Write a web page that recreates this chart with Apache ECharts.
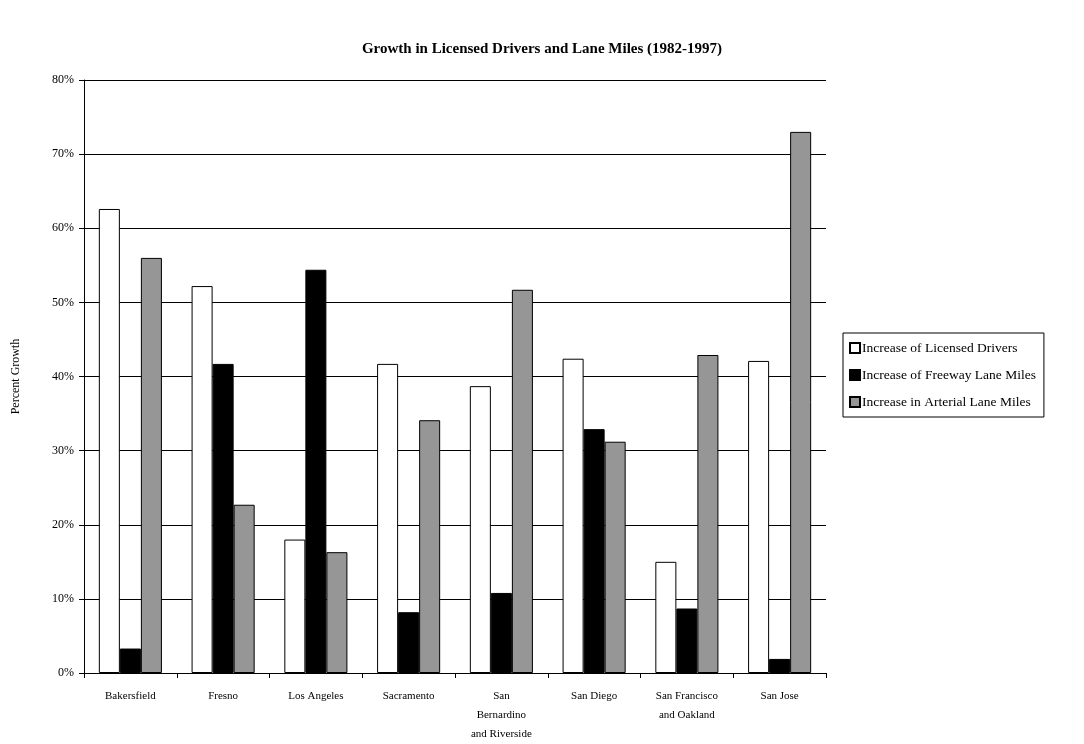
<!DOCTYPE html>
<html>
<head>
<meta charset="utf-8">
<script src="https://cdn.jsdelivr.net/npm/echarts@6/dist/echarts.min.js"></script>
<style>
  html, body { margin: 0; padding: 0; background: #fff; }
  #chart { width: 1084px; height: 744px; }
</style>
</head>
<body>
<div id="chart"></div>
<script>
// data
const cities = ['Bakersfield', 'Fresno', 'Los Angeles', 'Sacramento',
  'San\nBernardino\nand Riverside', 'San Diego', 'San Francisco\nand Oakland', 'San Jose'];
const licensedDrivers = [62.6, 52.2, 18.0, 41.7, 38.7, 42.4, 15.0, 42.1];
const freewayLaneMiles = [3.3, 41.7, 54.4, 8.2, 10.8, 32.9, 8.7, 1.9];
const arterialLaneMiles = [56.0, 22.7, 16.3, 34.1, 51.7, 31.2, 42.9, 73.0];
const seriesNames = ['Increase of Licensed Drivers', 'Increase of Freeway Lane Miles', 'Increase in Arterial Lane Miles'];
const yTicks = [0, 10, 20, 30, 40, 50, 60, 70, 80];

const font = '"Liberation Serif", "Times New Roman", serif';
const chart = echarts.init(document.getElementById('chart'));

const barStyle = (fill) => ({ color: fill, borderColor: '#000', borderWidth: 1 });

chart.setOption({
  backgroundColor: '#fff',
  animation: false,
  textStyle: { fontFamily: font, color: '#000' },
  title: {
    text: 'Growth in Licensed Drivers and Lane Miles (1982-1997)',
    left: 'center',
    top: 37,
    textStyle: { fontFamily: font, fontSize: 15, fontWeight: 'bold', color: '#000' }
  },
  legend: {
    orient: 'vertical',
    left: 843,
    top: 333,
    icon: 'rect',
    itemWidth: 10,
    itemHeight: 10,
    itemGap: 13,
    borderColor: '#000',
    borderWidth: 1,
    padding: [8, 8, 8, 6],
    data: seriesNames,
    textStyle: { fontFamily: font, fontSize: 13.5, color: '#000', padding: [0, 0, 0, -3] }
  },
  grid: { left: 84, right: 258, top: 80, bottom: 68 },
  xAxis: {
    type: 'category',
    data: cities,
    axisLine: { lineStyle: { color: '#000', width: 1 } },
    axisTick: { show: true, length: 5, lineStyle: { color: '#000' } },
    axisLabel: { fontFamily: font, fontSize: 11, color: '#000', margin: 14, lineHeight: 19, interval: 0 }
  },
  yAxis: {
    type: 'value',
    min: yTicks[0],
    max: yTicks[yTicks.length - 1],
    interval: 10,
    name: 'Percent Growth',
    nameLocation: 'middle',
    nameGap: 62,
    nameTextStyle: { fontFamily: font, fontSize: 12, color: '#000' },
    axisLine: { show: true, lineStyle: { color: '#000', width: 1 } },
    axisTick: { show: true, length: 5, lineStyle: { color: '#000' } },
    axisLabel: { formatter: '{value}%', fontFamily: font, fontSize: 12, color: '#000', margin: 10 },
    splitLine: { show: true, lineStyle: { color: '#000', width: 1 } }
  },
  series: [
    { name: seriesNames[0], type: 'bar', data: licensedDrivers, barGap: '0%', barCategoryGap: '32%', itemStyle: barStyle('#ffffff') },
    { name: seriesNames[1], type: 'bar', data: freewayLaneMiles, itemStyle: barStyle('#000000') },
    { name: seriesNames[2], type: 'bar', data: arterialLaneMiles, itemStyle: barStyle('#969696') }
  ]
});
</script>
</body>
</html>
